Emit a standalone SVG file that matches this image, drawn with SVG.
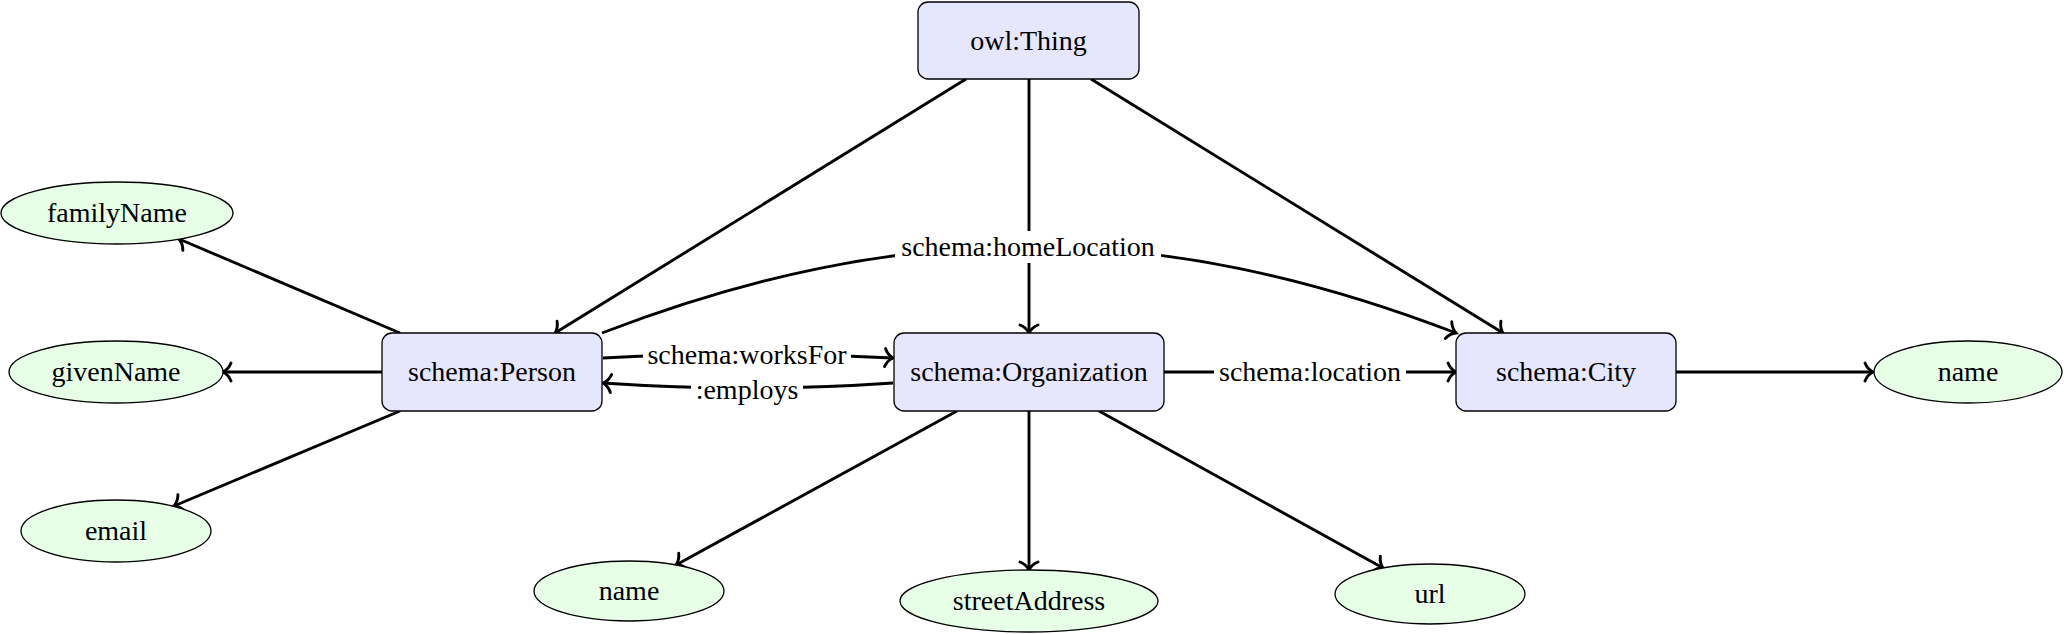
<svg xmlns="http://www.w3.org/2000/svg" width="2064" height="634" viewBox="0 0 2064 634">
<defs>
<marker id="arr" markerUnits="userSpaceOnUse" markerWidth="24" markerHeight="24" viewBox="-12 -12 24 24" refX="0" refY="0" orient="auto">
<path d="M-8,-9 C-6,-4 -2,-1 0,0 C-2,1 -6,4 -8,9" fill="none" stroke="#000" stroke-width="2.9" stroke-linecap="round"/>
</marker>
</defs>
<style>
.cls rect{fill:#E6E6FF;stroke:#000;stroke-width:1.3}
.lit ellipse{fill:#E6FFE6;stroke:#000;stroke-width:1.3}
.e{fill:none;stroke:#000;stroke-width:2.9;marker-end:url(#arr)}
.lb{fill:#fff}
</style>
<rect width="2064" height="634" fill="#fff"/>

<g id="connectors">
<line class="e" x1="966" y1="79" x2="555" y2="333"/>
<line class="e" x1="1029" y1="79" x2="1029" y2="333"/>
<line class="e" x1="1091" y1="79" x2="1503" y2="333"/>
<path class="e" d="M602,333 C901,218 1157,218 1456,333"/>
<path class="e" d="M603,358 Q748,350 893,358"/>
<path class="e" d="M893,383 Q748,393 603,383"/>
<line class="e" x1="1164" y1="372" x2="1456" y2="372"/>
<line class="e" x1="1676" y1="372" x2="1873" y2="372"/>
<line class="e" x1="400" y1="333" x2="179" y2="239"/>
<line class="e" x1="382" y1="372" x2="223" y2="372"/>
<line class="e" x1="400" y1="411" x2="174" y2="506"/>
<line class="e" x1="957" y1="411" x2="676" y2="565"/>
<line class="e" x1="1029" y1="411" x2="1029" y2="570"/>
<line class="e" x1="1099" y1="411" x2="1383" y2="568"/>
<g id="edge-labels">
<rect class="lb" x="895" y="231" width="266" height="32"/>
<text x="1028" y="256" font-family="Liberation Serif" font-size="28" text-anchor="middle" style="font-family:'Liberation Serif',serif !important">schema:homeLocation</text>
<rect class="lb" x="643" y="341" width="208" height="28"/>
<text x="747" y="364" font-family="Liberation Serif" font-size="28" text-anchor="middle" style="font-family:'Liberation Serif',serif !important">schema:worksFor</text>
<rect class="lb" x="691" y="377" width="112" height="28"/>
<text x="747" y="399" font-family="Liberation Serif" font-size="28" text-anchor="middle" style="font-family:'Liberation Serif',serif !important">:employs</text>
<rect class="lb" x="1214" y="358" width="192" height="30"/>
<text x="1310" y="381" font-family="Liberation Serif" font-size="28" text-anchor="middle" style="font-family:'Liberation Serif',serif !important">schema:location</text>
</g>
</g>

<g id="thing" class="cls"><rect x="918" y="2" width="221" height="77" rx="10"/><text x="1028.5" y="49.5" font-family="Liberation Serif" font-size="28" text-anchor="middle" style="font-family:'Liberation Serif',serif !important">owl:Thing</text></g>
<g id="person" class="cls"><rect x="382" y="333" width="220" height="78" rx="10"/><text x="492" y="381" font-family="Liberation Serif" font-size="28" text-anchor="middle" style="font-family:'Liberation Serif',serif !important">schema:Person</text></g>
<g id="org" class="cls"><rect x="894" y="333" width="270" height="78" rx="10"/><text x="1029" y="381" font-family="Liberation Serif" font-size="28" text-anchor="middle" style="font-family:'Liberation Serif',serif !important">schema:Organization</text></g>
<g id="city" class="cls"><rect x="1456" y="333" width="220" height="78" rx="10"/><text x="1566" y="381" font-family="Liberation Serif" font-size="28" text-anchor="middle" style="font-family:'Liberation Serif',serif !important">schema:City</text></g>

<g id="familyName" class="lit"><ellipse cx="117" cy="213" rx="116" ry="31"/><text x="117" y="222" font-family="Liberation Serif" font-size="28" text-anchor="middle" style="font-family:'Liberation Serif',serif !important">familyName</text></g>
<g id="givenName" class="lit"><ellipse cx="116" cy="372" rx="107" ry="31"/><text x="116" y="381" font-family="Liberation Serif" font-size="28" text-anchor="middle" style="font-family:'Liberation Serif',serif !important">givenName</text></g>
<g id="email" class="lit"><ellipse cx="116" cy="531" rx="95" ry="31"/><text x="116" y="540" font-family="Liberation Serif" font-size="28" text-anchor="middle" style="font-family:'Liberation Serif',serif !important">email</text></g>
<g id="orgName" class="lit"><ellipse cx="629" cy="591" rx="95" ry="30"/><text x="629" y="600" font-family="Liberation Serif" font-size="28" text-anchor="middle" style="font-family:'Liberation Serif',serif !important">name</text></g>
<g id="streetAddress" class="lit"><ellipse cx="1029" cy="601" rx="129" ry="31"/><text x="1029" y="610" font-family="Liberation Serif" font-size="28" text-anchor="middle" style="font-family:'Liberation Serif',serif !important">streetAddress</text></g>
<g id="url" class="lit"><ellipse cx="1430" cy="594" rx="95" ry="30"/><text x="1430" y="603" font-family="Liberation Serif" font-size="28" text-anchor="middle" style="font-family:'Liberation Serif',serif !important">url</text></g>
<g id="cityName" class="lit"><ellipse cx="1968" cy="372" rx="94" ry="31"/><text x="1968" y="381" font-family="Liberation Serif" font-size="28" text-anchor="middle" style="font-family:'Liberation Serif',serif !important">name</text></g>
</svg>
